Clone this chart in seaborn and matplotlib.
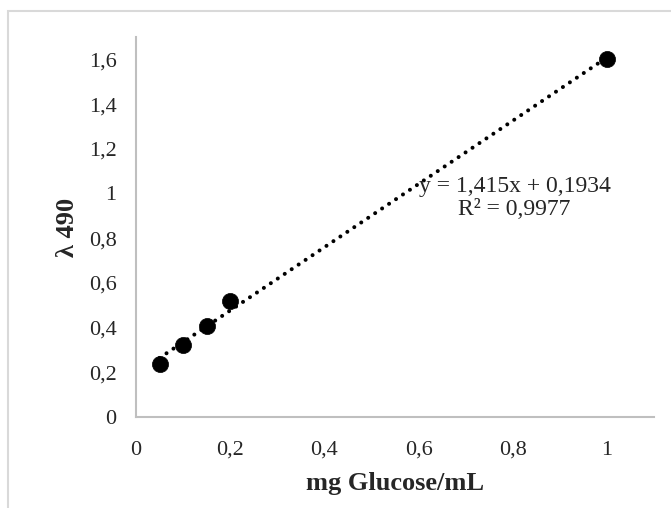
import numpy as np
import pandas as pd
import seaborn as sns
import matplotlib.pyplot as plt
from matplotlib.patches import Rectangle

# calibration points
glucose = [0.05, 0.10, 0.15, 0.20, 1.00]
absorbance = [0.235, 0.32, 0.405, 0.52, 1.60]

# trendline as printed on the chart
slope = 1.415
intercept = 0.1934
r_squared = 0.9977

x_ticks = [0, 0.2, 0.4, 0.6, 0.8, 1]
y_ticks = [0, 0.2, 0.4, 0.6, 0.8, 1, 1.2, 1.4, 1.6]


def comma(v):
    return ('%g' % v).replace('.', ',')


sns.set_style('white')
plt.rcParams['font.family'] = ['Liberation Serif', 'DejaVu Serif']

df = pd.DataFrame({'x': glucose, 'y': absorbance})
trend_x = np.array([min(glucose), max(glucose)])
trend = pd.DataFrame({'x': trend_x, 'y': slope * trend_x + intercept})

fig = plt.figure(figsize=(6.71, 5.08), dpi=100)
ax = fig.add_axes([136 / 671, 1 - 417 / 508, (654 - 136) / 671, (417 - 37) / 508])

# outer chart border
fig.patches.append(Rectangle((8 / 671, -0.1), 1.2, 1 - 11 / 508 + 0.1,
                             transform=fig.transFigure, fill=False,
                             edgecolor='#D9D9D9', linewidth=1.5))

sns.lineplot(data=trend, x='x', y='y', ax=ax, color='black', linewidth=2.9,
             linestyle=(0, (0.01, 2.07)), dash_capstyle='round')
sns.scatterplot(data=df, x='x', y='y', ax=ax, color='black', s=135,
                edgecolor='black', linewidth=0.5, zorder=3)

ax.set_xlim(0, 1.1)
ax.set_ylim(0, 1.7)
ax.set_xticks(x_ticks)
ax.set_yticks(y_ticks)
ax.set_xticklabels([comma(v) for v in x_ticks])
ax.set_yticklabels([comma(v) for v in y_ticks])
ax.tick_params(axis='x', length=0, pad=17, labelsize=16)
ax.tick_params(axis='y', length=0, pad=14, labelsize=16)

for side in ['top', 'right']:
    ax.spines[side].set_visible(False)
for side in ['left', 'bottom']:
    ax.spines[side].set_color('#BFBFBF')
    ax.spines[side].set_linewidth(1.5)

ax.set_xlabel('mg Glucose/mL', fontsize=19, fontweight='bold', labelpad=9)
ax.set_ylabel('λ 490', fontsize=19, fontweight='bold', labelpad=7)

eq = 'y = %sx + %s\nR² = %s' % (comma(slope), comma(intercept), comma(r_squared))
ax.text(0.804, 0.98, eq, ha='center', va='center', fontsize=17,
        linespacing=1.12, zorder=4)

fig.savefig('out.png', dpi=100)
